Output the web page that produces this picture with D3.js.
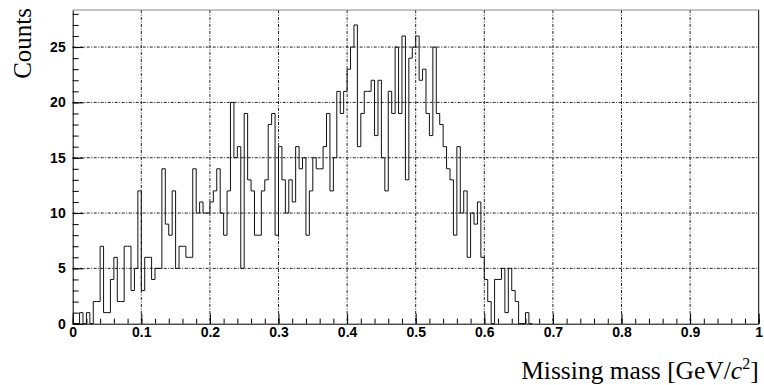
<!DOCTYPE html>
<html>
<head>
<meta charset="utf-8">
<script src="https://cdn.jsdelivr.net/npm/d3@7"></script>
<style>
  body { margin: 0; background: #fff; }
  .tick text { font-family: "Liberation Sans", Arial, sans-serif; font-weight: bold; font-size: 14px; fill: #000; }
</style>
</head>
<body>
<div id="chart"></div>
<script>
// histogram: bins of 0.005 starting at 0
const binStart = 0;
const binWidth = 0.005;
const counts = [
  0, 0, 1, 0, 1, 0, 2, 2, 7, 1,
  1, 4, 6, 2, 2, 7, 7, 3, 5, 12,
  3, 6, 6, 4, 5, 5, 14, 9, 8, 12,
  5, 7, 7, 6, 6, 14, 10, 11, 10, 10,
  11, 12, 14, 10, 8, 12, 20, 15, 16, 5,
  19, 13, 12, 8, 8, 12, 13, 18, 19, 8,
  16, 13, 10, 13, 11, 16, 14, 15, 8, 12,
  15, 14, 14, 16, 19, 12, 15, 21, 19, 21,
  23, 25, 27, 16, 19, 21, 21, 22, 17, 22,
  15, 12, 21, 19, 25, 19, 26, 13, 24, 25,
  26, 22, 23, 19, 17, 25, 19, 18, 16, 14,
  13, 8, 16, 10, 12, 6, 10, 9, 11, 6,
  4, 2, 0, 4, 4, 5, 1, 5, 3, 2,
  0, 0, 1, 0
];
const xMajorTicks = [0, 0.1, 0.2, 0.3, 0.4, 0.5, 0.6, 0.7, 0.8, 0.9, 1];
const xTickLabels = ["0", "0.1", "0.2", "0.3", "0.4", "0.5", "0.6", "0.7", "0.8", "0.9", "1"];
const xMinorStep = 0.02;
const yMajorTicks = [0, 5, 10, 15, 20, 25];
const yMax = 28.35;

var svgwidth = 764;
var svgheight = 385;
var padLeft = 72.7, padRight = 758.7, padTop = 10, padBottom = 323.7;

var svg = d3.select('#chart')
    .append('svg')
    .attr('width', svgwidth)
    .attr('height', svgheight);

var xscale = d3.scaleLinear().domain([0, 1]).range([padLeft, padRight]);
var yscale = d3.scaleLinear().domain([0, yMax]).range([padBottom, padTop]);

// grid lines
var grid = svg.append('g')
    .attr('stroke', '#222')
    .attr('stroke-width', 1)
    .attr('stroke-dasharray', '3,1.5,1,1.5');
grid.selectAll('line.vx')
    .data(xMajorTicks.filter(d => d > 0 && d < 1))
    .join('line')
    .attr('class', 'vx')
    .attr('x1', d => xscale(d)).attr('x2', d => xscale(d))
    .attr('y1', padTop).attr('y2', padBottom);
grid.selectAll('line.hy')
    .data(yMajorTicks.filter(d => d > 0))
    .join('line')
    .attr('class', 'hy')
    .attr('x1', padLeft).attr('x2', padRight)
    .attr('y1', d => yscale(d)).attr('y2', d => yscale(d));

// histogram outline
var pts = [[binStart, 0]];
counts.forEach((c, i) => {
    var lo = binStart + i * binWidth;
    pts.push([lo, c]);
    pts.push([lo + binWidth, c]);
});
pts.push([binStart + counts.length * binWidth, 0]);

var line = d3.line()
    .x(d => xscale(d[0]))
    .y(d => yscale(d[1]));

svg.append('path')
    .datum(pts)
    .attr('d', line)
    .attr('fill', 'none')
    .attr('stroke', '#111')
    .attr('stroke-width', 1);

// frame top / right
svg.append('line')
    .attr('x1', padLeft).attr('x2', padRight).attr('y1', padTop).attr('y2', padTop)
    .attr('stroke', '#888').attr('stroke-width', 1.2);
svg.append('line')
    .attr('x1', padRight).attr('x2', padRight).attr('y1', padTop).attr('y2', padBottom)
    .attr('stroke', '#000').attr('stroke-width', 1);

// x axis: minor ticks
var xMinor = d3.range(0, 1 + 1e-9, xMinorStep);
svg.append('g')
    .attr('transform', `translate(0, ${padBottom})`)
    .call(d3.axisBottom(xscale).tickValues(xMinor).tickSizeInner(-5).tickSizeOuter(0).tickFormat(''))
    .call(g => g.select('.domain').remove());

// x axis: major ticks + labels
svg.append('g')
    .attr('transform', `translate(0, ${padBottom})`)
    .call(d3.axisBottom(xscale)
        .tickValues(xMajorTicks)
        .tickSizeInner(-10)
        .tickSizeOuter(0)
        .tickPadding(3)
        .tickFormat((d, i) => xTickLabels[i]))
    .call(g => g.select('.domain').attr('stroke', '#000'));

// y axis: minor ticks
var yMinor = d3.range(0, 29, 1);
svg.append('g')
    .attr('transform', `translate(${padLeft}, 0)`)
    .call(d3.axisLeft(yscale).tickValues(yMinor).tickSizeInner(-6).tickSizeOuter(0).tickFormat(''))
    .call(g => g.select('.domain').remove());

// y axis: major ticks + labels
svg.append('g')
    .attr('transform', `translate(${padLeft}, 0)`)
    .call(d3.axisLeft(yscale)
        .tickValues(yMajorTicks)
        .tickSizeInner(-11)
        .tickSizeOuter(0)
        .tickPadding(7))
    .call(g => g.select('.domain').attr('stroke', '#000'));

// axis titles
svg.append('text')
    .attr('transform', 'rotate(-90)')
    .attr('x', -8)
    .attr('y', 31)
    .style('text-anchor', 'end')
    .style('font-family', '"Liberation Serif", "Times New Roman", serif')
    .style('font-size', '25px')
    .text('Counts');

var xt = svg.append('text')
    .attr('x', padRight)
    .attr('y', 379)
    .style('text-anchor', 'end')
    .style('font-family', '"Liberation Serif", "Times New Roman", serif')
    .style('font-size', '25.5px');
xt.append('tspan').text('Missing mass [GeV/');
xt.append('tspan').style('font-style', 'italic').text('c');
xt.append('tspan').attr('dy', -10).style('font-size', '16px').text('2');
xt.append('tspan').attr('dy', 10).text(']');
</script>
</body>
</html>
